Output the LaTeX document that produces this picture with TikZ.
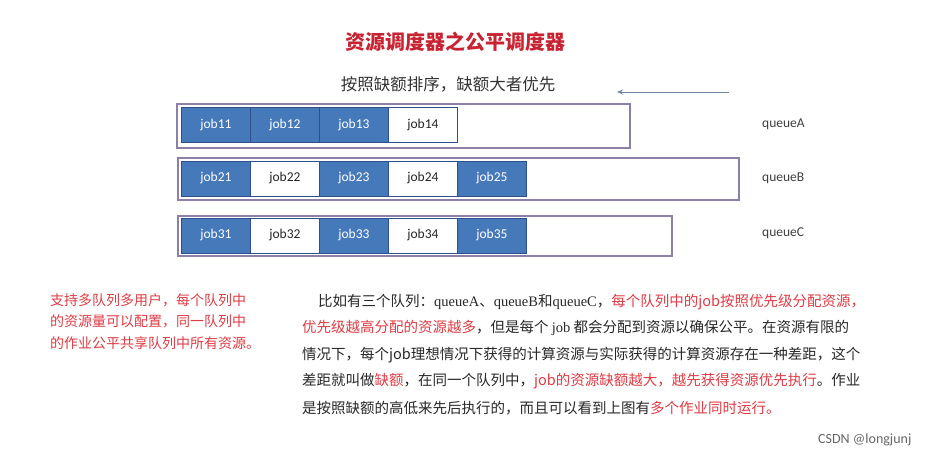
\documentclass[tikz,border=0pt]{standalone}
\usepackage{fontspec}
\setmainfont{Carlito}
\newfontfamily\cjk{Noto Sans CJK SC}
\newfontfamily\lserif{Liberation Serif}
\usetikzlibrary{arrows.meta}
\definecolor{jobblue}{RGB}{70,121,186}
\definecolor{jobedge}{RGB}{45,80,140}
\definecolor{qedge}{RGB}{140,128,168}
\definecolor{tred}{RGB}{200,35,50}
\definecolor{pred}{RGB}{222,60,70}
\definecolor{ptxt}{RGB}{40,40,40}
\definecolor{arrc}{RGB}{110,135,165}
\tikzset{
  qbox/.style={draw=qedge,line width=1.6pt,fill=white,anchor=north west,inner sep=0pt},
  jobf/.style={draw=jobedge,line width=0.8pt,fill=jobblue,text=white,anchor=north west,
    minimum width=69pt,minimum height=35pt,inner sep=0pt,font=\fontsize{13.5}{15}\selectfont},
  jobe/.style={draw=jobedge,line width=0.8pt,fill=white,text=black!85,anchor=north west,
    minimum width=69pt,minimum height=35pt,inner sep=0pt,font=\fontsize{13.5}{15}\selectfont},
  qlab/.style={anchor=west,inner sep=0pt,text=black!75,font=\fontsize{13.5}{15}\selectfont},
  pline/.style={anchor=west,inner sep=0pt,text=ptxt,font=\cjk\fontsize{14.5}{17}\selectfont},
  lline/.style={anchor=west,inner sep=0pt,text=pred,font=\cjk\fontsize{14}{16}\selectfont}
}
\begin{document}
\begin{tikzpicture}[x=1pt,y=-1pt]
\useasboundingbox[fill=white] (0,0) rectangle (930,456);
% title
\node[text=tred,font=\cjk\bfseries\fontsize{20}{23}\selectfont] (title) at (455,42) {资源调度器之公平调度器};
\node[text=black!80,font=\cjk\fontsize{16.5}{19}\selectfont] (sub) at (448,84) {按照缺额排序，缺额大者优先};
% arrow
\coordinate (arrS) at (729,92);
\coordinate (arrE) at (617,92);
\draw[arrc,line width=1pt,-{Stealth[length=6pt,width=5pt]}] (arrS) -- (arrE);
% queue A
\node[qbox,minimum width=453pt,minimum height=44pt] (qA) at (176,103) {};
\node[jobf] (j11) at (181,107) {job11};
\node[jobf] (j12) at (250,107) {job12};
\node[jobf] (j13) at (319,107) {job13};
\node[jobe] (j14) at (388,107) {job14};
% queue B
\node[qbox,minimum width=561pt,minimum height=42pt] (qB) at (177,157) {};
\node[jobf] (j21) at (181,160.5) {job21};
\node[jobe] (j22) at (250,160.5) {job22};
\node[jobf] (j23) at (319,160.5) {job23};
\node[jobe] (j24) at (388,160.5) {job24};
\node[jobf] (j25) at (457,160.5) {job25};
% queue C
\node[qbox,minimum width=494pt,minimum height=40pt] (qC) at (177,215) {};
\node[jobf] (j31) at (181,217.5) {job31};
\node[jobe] (j32) at (250,217.5) {job32};
\node[jobf] (j33) at (319,217.5) {job33};
\node[jobe] (j34) at (388,217.5) {job34};
\node[jobf] (j35) at (457,217.5) {job35};
% queue labels
\node[qlab] (lA) at (762,124) {queueA};
\node[qlab] (lB) at (762,178) {queueB};
\node[qlab] (lC) at (762,233) {queueC};
% left red text
\node[lline] (l1) at (50,300) {支持多队列多用户，每个队列中};
\node[lline] (l2) at (50,321) {的资源量可以配置，同一队列中};
\node[lline] (l3) at (50,343) {的作业公平共享队列中所有资源。};
% paragraph
\node[pline] (p1) at (318,302) {比如有三个队列：{\lserif queueA}、{\lserif queueB}和{\lserif queueC}，\textcolor{pred}{每个队列中的job按照优先级分配资源，}};
\node[pline] (p2) at (302,328) {\textcolor{pred}{优先级越高分配的资源越多}，但是每个 {\lserif job} 都会分配到资源以确保公平。在资源有限的};
\node[pline] (p3) at (302,355) {情况下，每个job理想情况下获得的计算资源与实际获得的计算资源存在一种差距，这个};
\node[pline] (p4) at (302,381) {差距就叫做\textcolor{pred}{缺额}，在同一个队列中，\textcolor{pred}{job的资源缺额越大，越先获得资源优先执行}。作业};
\node[pline] (p5) at (302,408) {是按照缺额的高低来先后执行的，而且可以看到上图有\textcolor{pred}{多个作业同时运行。}};
% watermark
\node[anchor=west,inner sep=0pt,text=black!60,font=\fontsize{14}{16}\selectfont] (wm) at (818,440) {CSDN @longjunj};
\end{tikzpicture}
\end{document}
